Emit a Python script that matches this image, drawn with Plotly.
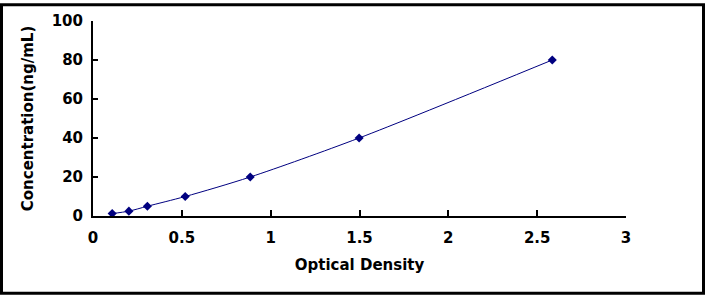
import plotly.graph_objects as go

od = [0.108, 0.202, 0.306, 0.519, 0.885, 1.498, 2.585]
conc = [1.25, 2.5, 5, 10, 20, 40, 80]
x_ticks = [0, 0.5, 1, 1.5, 2, 2.5, 3]
x_tick_labels = ["0", "0.5", "1", "1.5", "2", "2.5", "3"]
y_ticks = [0, 20, 40, 60, 80, 100]
y_tick_labels = ["0", "20", "40", "60", "80", "100"]

W, H = 705, 296
ml, mr, mt, mb = 93, 79, 18, 80

fig = go.Figure()
fig.add_trace(go.Scatter(
    x=od, y=conc, mode="lines+markers",
    line=dict(color="#000080", width=1, shape="spline", smoothing=0.8),
    marker=dict(symbol="diamond", size=7, color="#000080"),
    showlegend=False,
))

font_family = "DejaVu Sans, Arial, sans-serif"
fig.update_layout(
    width=W, height=H,
    margin=dict(l=ml, r=mr, t=mt, b=mb),
    paper_bgcolor="white", plot_bgcolor="white",
    font=dict(family=font_family, color="black", size=15, weight="bold"),
    xaxis=dict(
        range=[0, 3], tickvals=x_ticks, ticktext=x_tick_labels,
        showline=True, linecolor="black", linewidth=2,
        ticks="inside", ticklen=6, tickwidth=2, tickcolor="black",
        showgrid=False, zeroline=False, ticklabelstandoff=7,
        tickfont=dict(size=15, weight="bold"),
        title=dict(text="Optical Density", font=dict(size=15, weight="bold"), standoff=13),
    ),
    yaxis=dict(
        range=[0, 100], tickvals=y_ticks, ticktext=y_tick_labels,
        showline=True, linecolor="black", linewidth=2,
        ticks="inside", ticklen=5, tickwidth=2, tickcolor="black",
        showgrid=False, zeroline=False, ticklabelstandoff=5,
        tickfont=dict(size=15, weight="bold"),
        title=dict(text="Concentration(ng/mL)", font=dict(size=15, weight="bold"), standoff=14),
    ),
)

pw = W - ml - mr
ph = H - mt - mb
fig.add_shape(
    type="rect", xref="paper", yref="paper",
    x0=(-ml + 1.5) / pw, x1=(W - ml - 1.5) / pw,
    y0=(-mb + 1.5) / ph, y1=(H - mb - 1.5) / ph,
    line=dict(color="black", width=3), fillcolor="rgba(0,0,0,0)", layer="above",
)

fig.write_html("out.html")
